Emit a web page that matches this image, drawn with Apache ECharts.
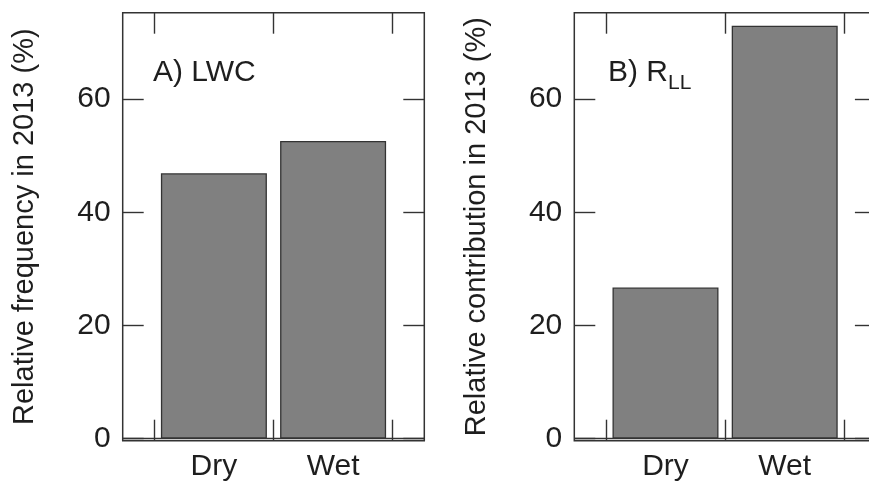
<!DOCTYPE html>
<html>
<head>
<meta charset="utf-8">
<script src="https://cdn.jsdelivr.net/npm/echarts@6/dist/echarts.min.js"></script>
<style>
  html, body { margin: 0; padding: 0; background: #fff; }
  #chart { width: 869px; height: 486px; }
</style>
</head>
<body>
<div id="chart"></div>
<script>
// data
const categories = ["Dry", "Wet"];
const lwcValues = [46.9, 52.6];   // A) relative frequency (%)
const rllValues = [26.7, 73.0];   // B) relative contribution (%)
const yTicks = [0, 20, 40, 60];
const xTickEdges = [0.5, 1.5, 2.5]; // ticks between the bars

const FONT = "Liberation Sans, Arial, sans-serif";
const INK = "#333";
const TEXT = "#1e1e1e";
const FS = 30;

const chart = echarts.init(document.getElementById("chart"));

function xAxes(gridIndex) {
  const common = {
    type: "value",
    gridIndex: gridIndex,
    min: 0.235,
    max: 2.765,
    splitLine: { show: false },
    axisLine: { show: false, onZero: false },
    axisTick: {
      inside: true,
      length: 21,
      customValues: xTickEdges,
      lineStyle: { color: INK, width: 1.4 },
    },
  };
  return [
    Object.assign({}, common, {
      position: "bottom",
      axisLabel: {
        customValues: categories.map((c, i) => i + 1),
        formatter: (v) => categories[Math.round(v) - 1],
        margin: 11,
        fontSize: FS,
        fontFamily: FONT,
        color: TEXT,
      },
    }),
    Object.assign({}, common, {
      position: "top",
      axisLabel: { show: false },
    }),
  ];
}

function yAxes(gridIndex, name) {
  const common = {
    type: "value",
    gridIndex: gridIndex,
    min: -0.4,
    max: 75.3,
    splitLine: { show: false },
    axisLine: { show: false, onZero: false },
    axisTick: {
      inside: true,
      length: 21,
      customValues: yTicks,
      lineStyle: { color: INK, width: 1.4 },
    },
  };
  return [
    Object.assign({}, common, {
      position: "left",
      name: name,
      nameLocation: "middle",
      nameGap: 83,
      nameTextStyle: { fontSize: 29, fontFamily: FONT, color: TEXT },
      axisLabel: {
        customValues: yTicks,
        margin: 12,
        fontSize: FS,
        fontFamily: FONT,
        color: TEXT,
      },
    }),
    Object.assign({}, common, {
      position: "right",
      axisLabel: { show: false },
    }),
  ];
}

function barSeries(axisOffset, values) {
  return {
    type: "bar",
    xAxisIndex: axisOffset,
    yAxisIndex: axisOffset,
    barWidth: 106,
    data: values.map((v, i) => [i + 1, v]),
    itemStyle: { color: "#808080", borderColor: INK, borderWidth: 1.3 },
    silent: true,
    markLine: {
      silent: true,
      symbol: ["none", "none"],
      label: { show: false },
      lineStyle: { type: "solid", color: INK, width: 1.4 },
      data: [{ yAxis: 0 }],
    },
  };
}

const gridStyle = {
  show: true,
  top: 12.7,
  height: 428,
  width: 301.6,
  borderColor: INK,
  borderWidth: 1.5,
  outerBoundsMode: "none",
  containLabel: false,
};

const option = {
  animation: false,
  backgroundColor: "#fff",
  title: [
    {
      text: "A) LWC",
      left: 153,
      top: 58,
      padding: 0,
      textStyle: { fontSize: FS, fontWeight: "normal", fontFamily: FONT, color: TEXT },
    },
    {
      text: "{m|B) R}{s|LL}",
      left: 608,
      top: 58,
      padding: 0,
      textStyle: {
        fontFamily: FONT,
        fontWeight: "normal",
        rich: {
          m: { fontSize: FS, fontWeight: "normal", fontFamily: FONT, color: TEXT, verticalAlign: "bottom" },
          s: { fontSize: 21, fontWeight: "normal", fontFamily: FONT, color: TEXT, verticalAlign: "bottom", padding: [0, 0, -6, 0] },
        },
      },
    },
  ],
  grid: [
    Object.assign({}, gridStyle, { left: 122.7 }),
    Object.assign({}, gridStyle, { left: 574.3 }),
  ],
  xAxis: xAxes(0).concat(xAxes(1)),
  yAxis: yAxes(0, "Relative frequency in 2013 (%)").concat(
    yAxes(1, "Relative contribution in 2013 (%)")
  ),
  series: [barSeries(0, lwcValues), barSeries(2, rllValues)],
};

chart.setOption(option);
</script>
</body>
</html>
